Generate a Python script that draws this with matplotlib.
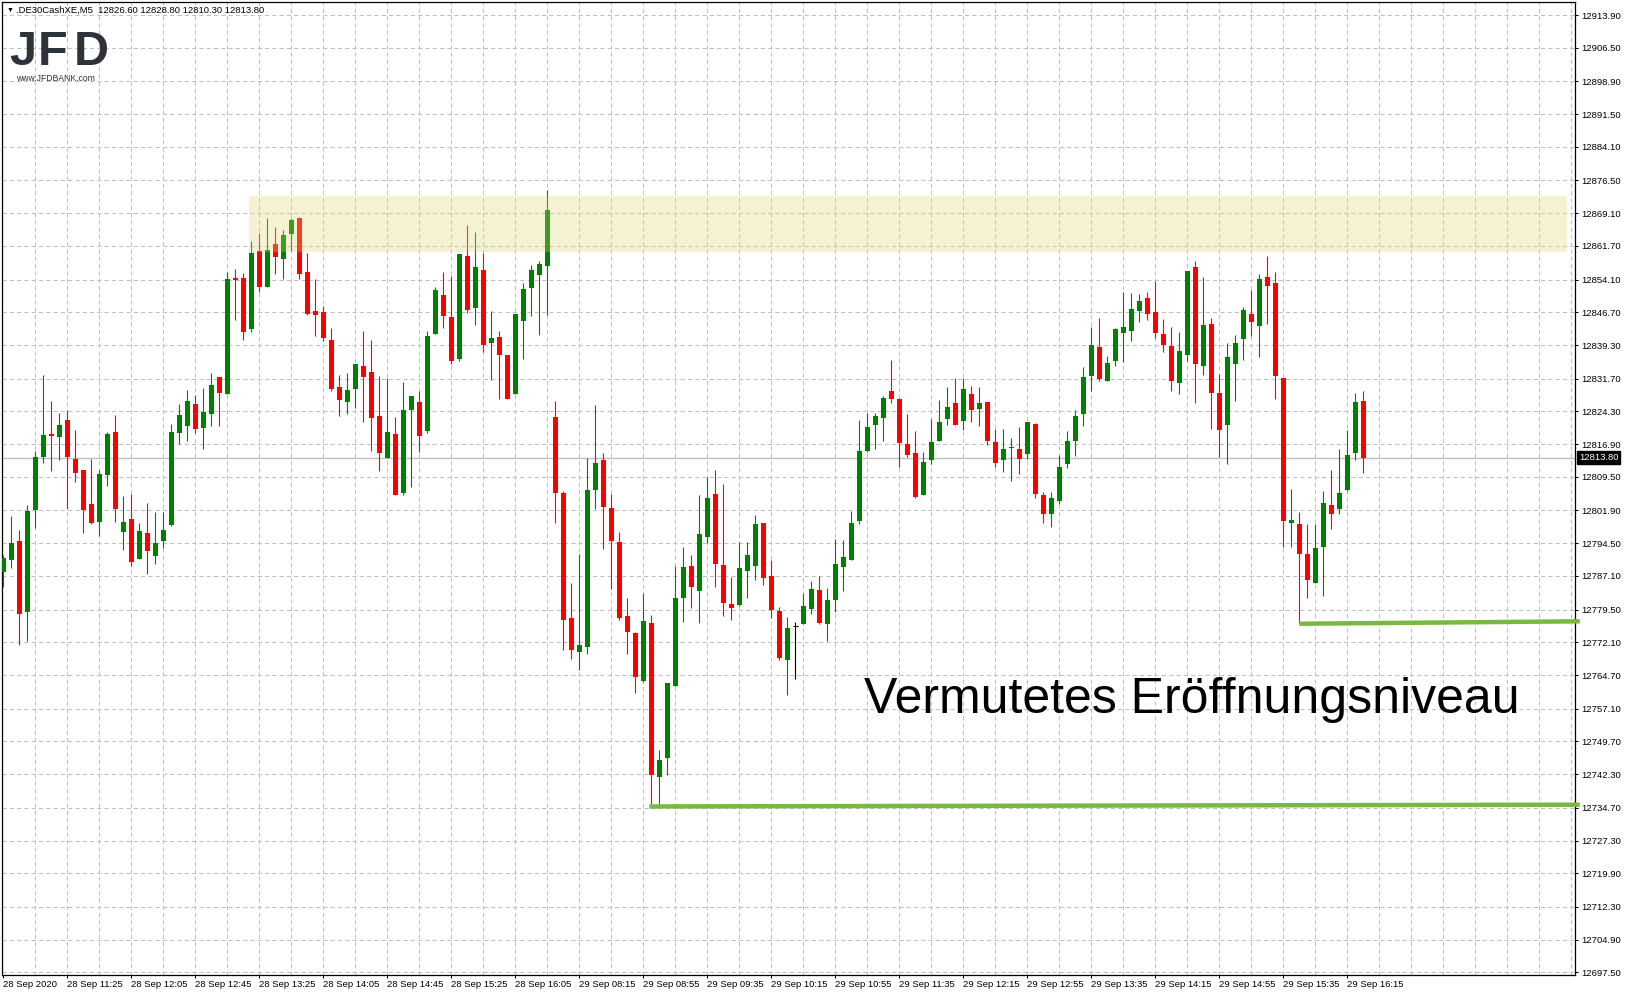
import numpy as np
import matplotlib.pyplot as plt
from matplotlib.patches import Rectangle
import matplotlib.transforms as mtransforms

plt.rcParams['font.family'] = ['Liberation Sans', 'DejaVu Sans']

# DE30 M5 candles, 28 Sep 2020 10:45 .. 29 Sep 2020 16:25
opens = [12788.1, 12790.6, 12795.0, 12779.0, 12802.0, 12814.1, 12819.2, 12818.6, 12822.4, 12813.5,
         12811.1, 12803.4, 12799.4, 12810.0, 12819.6, 12797.1, 12800.0, 12791.0, 12796.8, 12791.7,
         12795.1, 12798.7, 12819.5, 12821.1, 12826.0, 12820.6, 12823.8, 12832.1, 12828.3, 12854.5,
         12854.5, 12843.0, 12860.6, 12852.5, 12862.1, 12858.8, 12864.5, 12868.0, 12855.8, 12847.0,
         12846.8, 12840.4, 12829.8, 12826.5, 12829.4, 12834.6, 12833.2, 12823.3, 12813.8, 12819.2,
         12805.9, 12824.6, 12826.4, 12819.9, 12841.9, 12850.6, 12845.7, 12836.2, 12859.4, 12847.7,
         12856.3, 12839.8, 12841.1, 12837.0, 12828.3, 12844.8, 12852.3, 12855.2, 12857.2, 12823.0,
         12805.9, 12777.7, 12769.8, 12771.1, 12806.6, 12813.3, 12802.5, 12794.8, 12778.1, 12774.1,
         12763.4, 12776.5, 12741.7, 12746.0, 12762.3, 12782.2, 12789.4, 12783.8, 12796.0, 12805.6,
         12789.6, 12780.8, 12780.5, 12788.3, 12789.4, 12799.1, 12787.1, 12779.2, 12768.2, 12775.8,
         12776.3, 12779.7, 12783.9, 12776.3, 12781.7, 12789.2, 12790.8, 12799.6, 12815.4, 12821.3,
         12822.7, 12828.9, 12827.1, 12816.9, 12814.9, 12805.3, 12813.2, 12817.7, 12822.6, 12826.2,
         12822.2, 12828.2, 12824.9, 12826.4, 12817.4, 12813.2, 12816.0, 12815.8, 12814.7, 12821.5,
         12805.4, 12801.0, 12804.1, 12812.3, 12817.7, 12823.6, 12832.2, 12838.9, 12831.2, 12835.8,
         12842.1, 12842.5, 12847.1, 12849.9, 12846.8, 12841.8, 12839.1, 12830.8, 12837.1, 12856.9,
         12834.6, 12844.1, 12828.5, 12821.3, 12835.1, 12840.7, 12846.3, 12843.7, 12854.7, 12853.3,
         12831.9, 12799.1, 12798.8, 12792.1, 12785.6, 12793.7, 12803.1, 12802.3, 12806.6, 12815.0,
         12826.6]
highs = [12791.8, 12800.7, 12797.5, 12803.1, 12815.3, 12832.5, 12826.6, 12824.0, 12824.6, 12820.1,
         12811.1, 12813.5, 12811.1, 12819.6, 12823.5, 12805.2, 12805.6, 12799.1, 12803.6, 12801.6,
         12801.6, 12821.4, 12826.0, 12829.1, 12828.0, 12829.6, 12833.0, 12832.1, 12855.8, 12856.5,
         12855.6, 12862.8, 12864.6, 12868.0, 12866.0, 12865.3, 12868.0, 12868.2, 12860.1, 12854.2,
         12848.1, 12843.1, 12832.5, 12833.0, 12835.0, 12842.5, 12840.4, 12832.3, 12831.8, 12823.0,
         12830.9, 12827.8, 12828.9, 12842.5, 12852.4, 12855.8, 12854.9, 12859.9, 12866.4, 12864.9,
         12860.1, 12847.0, 12842.5, 12837.0, 12846.4, 12853.3, 12857.4, 12858.3, 12874.3, 12826.6,
         12806.3, 12785.5, 12792.1, 12813.8, 12825.8, 12814.9, 12805.6, 12797.0, 12782.2, 12774.5,
         12783.3, 12778.3, 12747.8, 12763.0, 12789.4, 12793.7, 12791.8, 12805.5, 12809.5, 12811.1,
         12807.9, 12786.9, 12794.8, 12794.8, 12800.9, 12799.1, 12790.7, 12780.1, 12777.8, 12776.8,
         12783.3, 12786.0, 12787.1, 12784.4, 12795.5, 12795.2, 12801.8, 12822.4, 12823.9, 12823.9,
         12827.8, 12835.9, 12827.3, 12823.7, 12819.9, 12815.1, 12822.6, 12826.9, 12829.8, 12831.9,
         12831.9, 12830.0, 12829.8, 12826.4, 12820.3, 12820.3, 12818.3, 12820.8, 12821.8, 12821.7,
         12806.1, 12806.1, 12814.4, 12819.9, 12824.6, 12834.3, 12843.4, 12845.4, 12836.8, 12843.2,
         12851.3, 12851.1, 12850.8, 12851.3, 12853.8, 12845.2, 12843.4, 12842.2, 12856.0, 12858.3,
         12854.7, 12845.4, 12832.8, 12839.8, 12841.6, 12847.9, 12851.7, 12855.4, 12859.4, 12855.8,
         12831.9, 12806.8, 12801.6, 12798.8, 12798.8, 12806.3, 12811.1, 12815.9, 12820.1, 12828.5,
         12828.8]
lows = [12784.7, 12789.0, 12771.6, 12772.5, 12798.0, 12812.7, 12810.9, 12813.2, 12802.3, 12808.4,
        12796.9, 12798.9, 12796.1, 12807.5, 12799.4, 12793.0, 12789.4, 12791.0, 12787.6, 12789.9,
        12793.5, 12798.5, 12816.9, 12817.5, 12819.5, 12815.7, 12821.1, 12821.1, 12828.3, 12845.0,
        12840.5, 12842.3, 12851.4, 12852.5, 12855.4, 12854.2, 12860.6, 12854.3, 12846.2, 12841.4,
        12840.3, 12829.0, 12823.3, 12823.6, 12825.1, 12822.0, 12815.4, 12810.9, 12813.8, 12805.5,
        12805.5, 12807.3, 12815.2, 12819.5, 12841.9, 12843.2, 12835.1, 12835.8, 12846.6, 12843.9,
        12837.8, 12831.5, 12827.2, 12827.2, 12828.3, 12836.2, 12845.9, 12841.6, 12846.2, 12799.1,
        12770.4, 12768.4, 12765.9, 12769.5, 12802.3, 12793.3, 12784.2, 12777.2, 12769.5, 12760.7,
        12763.2, 12735.6, 12735.6, 12742.2, 12762.3, 12776.8, 12779.9, 12776.5, 12794.6, 12784.7,
        12778.1, 12777.2, 12780.4, 12782.2, 12786.3, 12785.1, 12777.7, 12768.2, 12760.3, 12763.7,
        12776.3, 12778.6, 12776.3, 12772.3, 12779.0, 12783.8, 12790.8, 12798.9, 12815.2, 12815.7,
        12817.7, 12826.3, 12811.8, 12814.1, 12804.8, 12805.3, 12812.3, 12817.7, 12821.3, 12821.3,
        12820.2, 12821.8, 12821.1, 12816.8, 12811.8, 12810.5, 12808.6, 12810.2, 12813.6, 12804.8,
        12799.1, 12798.2, 12803.4, 12811.4, 12814.3, 12821.1, 12829.0, 12831.2, 12831.2, 12834.6,
        12835.5, 12840.3, 12844.6, 12845.0, 12841.0, 12837.8, 12829.0, 12828.3, 12835.8, 12826.3,
        12832.6, 12820.4, 12814.1, 12812.3, 12826.7, 12836.0, 12841.4, 12836.7, 12844.1, 12827.2,
        12793.7, 12793.7, 12776.5, 12782.2, 12785.6, 12782.6, 12797.8, 12801.2, 12806.4, 12813.2,
        12810.3]
closes = [12791.1, 12794.5, 12778.6, 12801.8, 12814.0, 12819.0, 12818.8, 12821.2, 12814.1, 12810.4,
          12802.0, 12799.1, 12810.1, 12819.2, 12802.3, 12799.3, 12790.3, 12797.3, 12792.8, 12794.5,
          12797.5, 12819.6, 12823.5, 12826.6, 12820.4, 12824.2, 12830.3, 12828.5, 12854.2, 12853.9,
          12842.3, 12860.1, 12852.5, 12860.8, 12859.3, 12864.2, 12867.6, 12855.4, 12846.4, 12846.2,
          12841.0, 12829.4, 12826.9, 12829.1, 12835.0, 12832.1, 12822.7, 12815.0, 12819.6, 12805.5,
          12824.6, 12827.8, 12818.8, 12841.3, 12851.7, 12845.9, 12835.8, 12859.9, 12847.3, 12856.9,
          12839.4, 12840.9, 12837.1, 12827.2, 12846.4, 12852.0, 12856.3, 12857.6, 12869.8, 12805.9,
          12777.2, 12770.4, 12771.6, 12806.5, 12812.6, 12802.8, 12794.9, 12777.7, 12774.5, 12764.3,
          12776.9, 12742.0, 12745.5, 12763.0, 12782.2, 12789.1, 12784.5, 12796.6, 12804.7, 12789.7,
          12781.1, 12779.9, 12788.9, 12791.8, 12798.9, 12786.7, 12779.3, 12768.6, 12775.3, 12775.8,
          12780.3, 12784.2, 12776.5, 12781.7, 12789.8, 12791.4, 12799.1, 12815.4, 12820.8, 12823.3,
          12827.3, 12827.1, 12817.2, 12814.5, 12805.0, 12812.9, 12817.4, 12821.9, 12825.3, 12821.3,
          12829.4, 12824.7, 12826.2, 12817.5, 12812.7, 12815.8, 12816.3, 12813.6, 12821.8, 12805.7,
          12801.2, 12804.8, 12811.7, 12817.6, 12823.3, 12832.1, 12839.3, 12831.7, 12835.2, 12842.9,
          12843.4, 12847.4, 12849.3, 12846.4, 12842.1, 12839.2, 12831.2, 12838.0, 12856.0, 12835.1,
          12843.8, 12828.5, 12820.2, 12836.6, 12839.8, 12847.2, 12844.6, 12854.2, 12852.7, 12832.2,
          12799.6, 12799.8, 12792.1, 12786.3, 12793.4, 12803.6, 12801.2, 12805.9, 12814.4, 12826.4,
          12813.8]

time_labels = ["28 Sep 2020", "28 Sep 11:25", "28 Sep 12:05", "28 Sep 12:45", "28 Sep 13:25",
               "28 Sep 14:05", "28 Sep 14:45", "28 Sep 15:25", "28 Sep 16:05", "29 Sep 08:15",
               "29 Sep 08:55", "29 Sep 09:35", "29 Sep 10:15", "29 Sep 10:55", "29 Sep 11:35",
               "29 Sep 12:15", "29 Sep 12:55", "29 Sep 13:35", "29 Sep 14:15", "29 Sep 14:55",
               "29 Sep 15:35", "29 Sep 16:15"]
price_ticks = [12697.50, 12704.90, 12712.30, 12719.90, 12727.30, 12734.70, 12742.30, 12749.70,
               12757.10, 12764.70, 12772.10, 12779.50, 12787.10, 12794.50, 12801.90, 12809.50,
               12816.90, 12824.30, 12831.70, 12839.30, 12846.70, 12854.10, 12861.70, 12869.10,
               12876.50, 12884.10, 12891.50, 12898.90, 12906.50, 12913.90]

header = ".DE30CashXE,M5  12826.60 12828.80 12810.30 12813.80"
last_price = 12813.80

# resistance zone and the two "opening level" lines
zone_start, zone_end = 30.75, 195.5
zone_low, zone_high = 12860.3, 12873.1
line_starts = [80.75, 162.0]
line_left = [12735.0, 12776.3]
line_right = [12735.4, 12776.85]
note = "Vermutetes Eröffnungsniveau"

W, H = 1626, 996
fig = plt.figure(figsize=(W / 100, H / 100), dpi=100)
ax = fig.add_axes([2 / W, 21 / H, 1573 / W, 973 / H])
x_max = 196.46
ax.set_xlim(-0.16, x_max)
ax.set_ylim(12696.90, 12916.84)

# grid
grid_kw = dict(color='#c0c0c0', lw=0.75, ls=(0, (4, 3)), zorder=1)
for p in price_ticks:
    ax.axhline(p, **grid_kw)
for gx in range(4, int(x_max) + 1, 4):
    ax.axvline(gx, **grid_kw)
ax.axhline(last_price, color='#c0c0c0', lw=1.0, zorder=2)

# candles
o, h, l, c = map(np.array, (opens, highs, lows, closes))
idx = np.arange(len(o))
cols = np.where(c > o, '#008000', np.where(c < o, '#ff0000', '#000000'))
ax.vlines(idx, l, h, colors=cols, lw=0.8, zorder=3)
body = c != o
ax.bar(idx[body], np.maximum(np.abs(c - o), 0.25)[body], bottom=np.minimum(o, c)[body],
       width=0.62, color=cols[body], lw=0, zorder=3)
ax.hlines(o[~body], idx[~body] - 0.31, idx[~body] + 0.31, colors='#000000', lw=0.8, zorder=3)

ax.add_patch(Rectangle((zone_start, zone_low), zone_end - zone_start, zone_high - zone_low,
                       facecolor='#ded773', alpha=0.3, lw=0, zorder=4))

for s, yl, yr in zip(line_starts, line_left, line_right):
    ax.plot([s, x_max + 0.6], [yl, yr], color='#78b843', lw=3.2,
            solid_capstyle='butt', clip_on=False, zorder=5)

ax.text(107.6, 12756.1, note, fontsize=36, va='baseline', ha='left', color='black', zorder=6)

# axes styling like MT4
for sp in ax.spines.values():
    sp.set_color('black')
    sp.set_linewidth(0.9)
ax.yaxis.tick_right()
ax.set_yticks(price_ticks)
ax.set_yticklabels([f"{p:.2f}" for p in price_ticks])
ax.set_xticks(idx[::8][:len(time_labels)])
ax.set_xticklabels(time_labels, ha='left')
ax.tick_params(axis='both', direction='out', length=2.2, width=0.75, labelsize=6.8,
               colors='black')
ax.tick_params(axis='y', pad=2)
ax.tick_params(axis='x', pad=1.5)

trans = mtransforms.blended_transform_factory(ax.transAxes, ax.transData)
ax.text(1 + 4 / 1573, last_price, f"{last_price:.2f}", transform=trans, color='white',
        fontsize=6.8, va='center', ha='left', zorder=7, clip_on=False,
        bbox=dict(facecolor='black', edgecolor='black', boxstyle='square,pad=0.2'))

# header and logo
fig.text(7 / W, 1 - 10 / H, "▼", fontsize=5, va='center', ha='left', color='black')
fig.text(16.5 / W, 1 - 10 / H, header, fontsize=6.8, va='center', ha='left', color='black')
logo_col = '#2e333a'
for ch, lx in zip("JFD", [9, 38, 74]):
    fig.text(lx / W, 1 - 65 / H, ch, fontsize=35, fontweight='bold', color=logo_col,
             va='baseline', ha='left')
fig.text(16.5 / W, 1 - 78.5 / H, "www.JFDBANK.com", fontsize=6.2, color=logo_col,
         va='center', ha='left')

fig.savefig('out.png', dpi=100)
